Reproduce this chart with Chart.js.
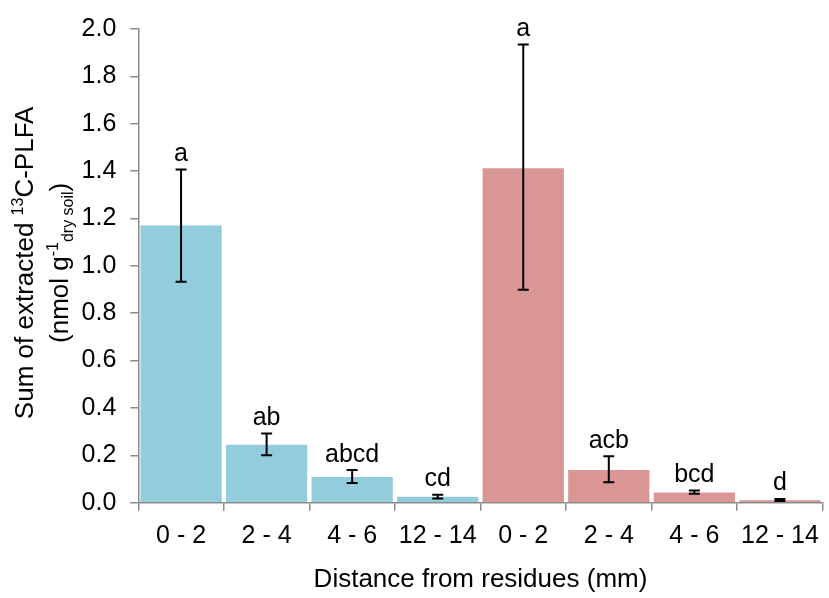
<!DOCTYPE html>
<html>
<head>
<meta charset="utf-8">
<script src="https://cdn.jsdelivr.net/npm/chart.js@4/dist/chart.umd.min.js"></script>
<style>
html,body{margin:0;padding:0;background:#fff;}
#wrap{width:829px;height:598px;position:relative;}
</style>
</head>
<body>
<div id="wrap"><canvas id="c" width="829" height="598"></canvas></div>
<script>
// ---- data ----
const categories = ["0 - 2", "2 - 4", "4 - 6", "12 - 14", "0 - 2", "2 - 4", "4 - 6", "12 - 14"];
const groups = ["A", "A", "A", "A", "B", "B", "B", "B"];
const values = [1.17, 0.245, 0.109, 0.025, 1.412, 0.138, 0.043, 0.010];
const errHigh = [1.407, 0.292, 0.138, 0.034, 1.935, 0.196, 0.051, 0.016];
const errLow = [0.933, 0.200, 0.083, 0.018, 0.899, 0.086, 0.038, 0.007];
const letters = ["a", "ab", "abcd", "cd", "a", "acb", "bcd", "d"];
const yTicks = [0.0, 0.2, 0.4, 0.6, 0.8, 1.0, 1.2, 1.4, 1.6, 1.8, 2.0];
const xTitle = "Distance from residues (mm)";

const groupColors = { A: "#93CDDD", B: "#D99694" };
const FONT = "'Liberation Sans', Arial, sans-serif";
const AXIS = "#8C8C8C";

const errorBars = {
  id: "errorBars",
  afterDatasetsDraw(chart) {
    const ctx = chart.ctx, y = chart.scales.y, meta = chart.getDatasetMeta(0);
    ctx.save();
    ctx.strokeStyle = "#000";
    ctx.lineWidth = 2;
    meta.data.forEach((bar, i) => {
      const x = bar.x, yt = y.getPixelForValue(errHigh[i]), yb = y.getPixelForValue(errLow[i]);
      ctx.beginPath();
      ctx.moveTo(x, yt); ctx.lineTo(x, yb);
      ctx.moveTo(x - 5.5, yt); ctx.lineTo(x + 5.5, yt);
      ctx.moveTo(x - 5.5, yb); ctx.lineTo(x + 5.5, yb);
      ctx.stroke();
      ctx.fillStyle = "#000";
      ctx.font = "25px " + FONT;
      ctx.textAlign = "center";
      ctx.textBaseline = "alphabetic";
      ctx.fillText(letters[i], x, yt - 8.5);
    });
    ctx.restore();
  }
};

function drawRich(ctx, parts, cx, cy) {
  // parts: [text, size, shift]
  let total = 0;
  parts.forEach(p => { ctx.font = p[1] + "px " + FONT; p.w = ctx.measureText(p[0]).width; total += p.w; });
  let x = -total / 2;
  ctx.save();
  ctx.translate(cx, cy);
  ctx.rotate(-Math.PI / 2);
  ctx.textBaseline = "alphabetic";
  ctx.textAlign = "left";
  ctx.fillStyle = "#000";
  parts.forEach(p => { ctx.font = p[1] + "px " + FONT; ctx.fillText(p[0], x, p[2]); x += p.w; });
  ctx.restore();
}

const titles = {
  id: "titles",
  afterDraw(chart) {
    const ctx = chart.ctx, a = chart.chartArea;
    const cy = (a.top + a.bottom) / 2 - 3;
    drawRich(ctx, [["Sum of extracted ", 26, 0], ["13", 16, -10], ["C-PLFA", 26, 0]], 33, cy);
    drawRich(ctx, [["(nmol g", 26, 0], ["-1", 16, -10], ["dry soil", 16, 5], [")", 26, 0]], 68, cy);
    ctx.save();
    ctx.font = "26px " + FONT;
    ctx.fillStyle = "#000";
    ctx.textAlign = "center";
    ctx.textBaseline = "middle";
    ctx.fillText(xTitle, (a.left + a.right) / 2, 580);
    ctx.restore();
  }
};

new Chart(document.getElementById("c"), {
  type: "bar",
  data: {
    labels: categories,
    datasets: [{
      data: values,
      backgroundColor: groups.map(g => groupColors[g]),
      borderWidth: 0,
      barPercentage: 0.95,
      categoryPercentage: 1.0
    }]
  },
  options: {
    responsive: false,
    animation: false,
    devicePixelRatio: 1,
    layout: { padding: { top: 19, right: 3, left: 0, bottom: 0 } },
    plugins: { legend: { display: false }, tooltip: { enabled: false } },
    scales: {
      x: {
        grid: { display: true, drawOnChartArea: false, drawTicks: true, tickLength: 8, color: AXIS, offset: true, lineWidth: 1.5 },
        border: { color: AXIS, width: 1.5 },
        ticks: { color: "#000", font: { family: FONT, size: 25 }, padding: 10, maxRotation: 0, autoSkip: false },
        afterFit(s) { s.height = 95.3; }
      },
      y: {
        min: 0, max: 2.0,
        afterBuildTicks(s) { s.ticks = yTicks.map(v => ({ value: v })); },
        grid: { display: true, drawOnChartArea: false, drawTicks: true, tickLength: 8, color: AXIS, lineWidth: 1.5 },
        border: { color: AXIS, width: 1.5 },
        ticks: { color: "#000", font: { family: FONT, size: 25 }, padding: 14, callback: v => Number(v).toFixed(1) },
        afterFit(s) { s.width = 138.3; }
      }
    }
  },
  plugins: [errorBars, titles]
});
</script>
</body>
</html>
